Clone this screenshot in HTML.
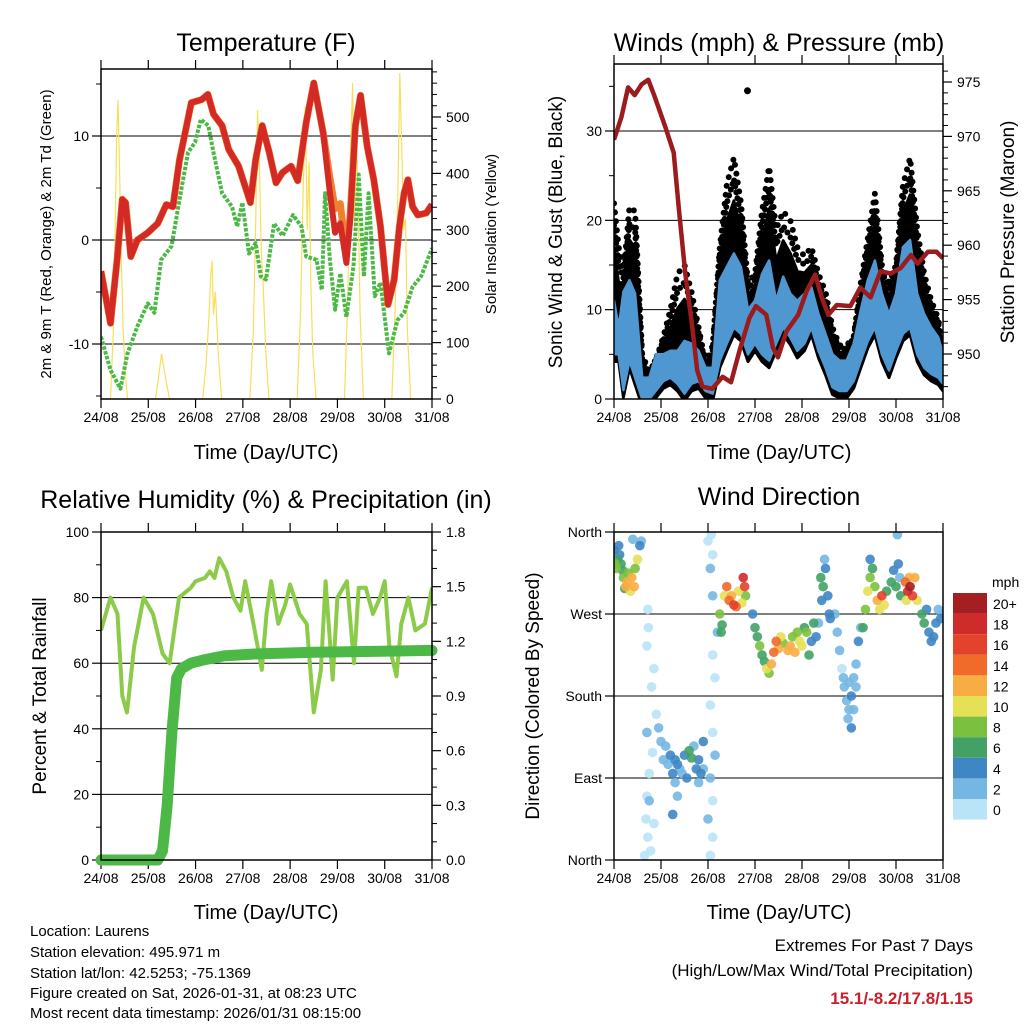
<!DOCTYPE html>
<html><head><meta charset="utf-8"><style>
html,body{margin:0;padding:0;background:#fff;}
svg{display:block;font-family:"Liberation Sans",sans-serif;}
</style></head><body>
<svg id="fig" width="1024" height="1024" viewBox="0 0 1024 1024" xmlns="http://www.w3.org/2000/svg">
<rect x="0" y="0" width="1024" height="1024" fill="#fff"/>
<text x="266" y="51" font-size="25" text-anchor="middle">Temperature (F)</text>
<text x="779" y="51" font-size="25" text-anchor="middle">Winds (mph) &amp; Pressure (mb)</text>
<text x="266" y="508" font-size="25" text-anchor="middle">Relative Humidity (%) &amp; Precipitation (in)</text>
<text x="779" y="505" font-size="25" text-anchor="middle">Wind Direction</text>
<text x="266" y="459" font-size="20" text-anchor="middle">Time (Day/UTC)</text>
<text x="779" y="459" font-size="20" text-anchor="middle">Time (Day/UTC)</text>
<text x="266" y="919" font-size="20" text-anchor="middle">Time (Day/UTC)</text>
<text x="779" y="919" font-size="20" text-anchor="middle">Time (Day/UTC)</text>
<text transform="translate(51,234) rotate(-90)" font-size="15" text-anchor="middle">2m &amp; 9m T (Red, Orange) &amp; 2m Td (Green)</text>
<text transform="translate(496,234) rotate(-90)" font-size="15" text-anchor="middle">Solar Insolation (Yellow)</text>
<text transform="translate(562,232) rotate(-90)" font-size="19" text-anchor="middle">Sonic Wind &amp; Gust (Blue, Black)</text>
<text transform="translate(1014,232) rotate(-90)" font-size="19" text-anchor="middle">Station Pressure (Maroon)</text>
<text transform="translate(46,696) rotate(-90)" font-size="19" text-anchor="middle">Percent &amp; Total Rainfall</text>
<text transform="translate(539,696) rotate(-90)" font-size="19" text-anchor="middle">Direction (Colored By Speed)</text>
<g font-size="15">
<text x="30" y="936">Location: Laurens</text>
<text x="30" y="957">Station elevation: 495.971 m</text>
<text x="30" y="978">Station lat/lon: 42.5253; -75.1369</text>
<text x="30" y="998">Figure created on Sat, 2026-01-31, at 08:23 UTC</text>
<text x="30" y="1018">Most recent data timestamp: 2026/01/31 08:15:00</text>
</g>
<g font-size="17" text-anchor="end">
<text x="973" y="951">Extremes For Past 7 Days</text>
<text x="973" y="976">(High/Low/Max Wind/Total Precipitation)</text>
<text x="973" y="1004" fill="#c8202a" font-weight="bold">15.1/-8.2/17.8/1.15</text>
</g>
<text x="992" y="587" font-size="14">mph</text>
</svg>
<script>
// ---- data ----
const dayLabels=["24/08","25/08","26/08","27/08","28/08","29/08","30/08","31/08"];
const tempT=[0,0.2,0.34,0.45,0.52,0.63,0.77,0.99,1.2,1.38,1.52,1.66,1.81,1.91,2.13,2.26,2.38,2.56,2.7,2.91,3.16,3.27,3.41,3.56,3.7,3.84,4.02,4.16,4.34,4.5,4.7,4.84,4.95,5.06,5.19,5.27,5.38,5.49,5.63,5.77,5.91,6.07,6.2,6.31,6.41,6.49,6.59,6.7,6.88,7.0];
const tempRed=[-3,-8,-1.9,3.9,3.6,-1.6,0,0.7,1.6,3.4,3.2,7.7,11,13.2,13.5,14,12.1,11,8.7,7.1,3.6,7.7,11,8.4,5.5,6.5,7.1,5.7,11.3,15.1,10.3,4.5,0.7,1.6,-2.2,2,11,13.9,9,5.8,1.3,-6.2,-3.8,1.3,4.5,5.8,3.2,2.4,2.6,3.4];
const tempOrange=[-3,-8,-1.9,3.9,3.6,-1.6,0,0.7,1.6,3.4,3.2,7.7,11,13.2,13.5,14,12.1,11,8.7,7.1,3.6,7.7,11,8.4,5.5,6.5,7.1,5.7,11.3,15.1,10.3,6,3,3.5,-1.5,2.5,11,13.9,9,5.8,1.3,-6.2,-3.8,1.3,4.5,5.8,3.2,2.4,2.6,3.4];
const dewT=[0,0.2,0.41,0.56,0.77,0.99,1.13,1.27,1.49,1.7,1.84,1.99,2.11,2.27,2.38,2.56,2.77,2.88,2.99,3.13,3.27,3.38,3.49,3.56,3.66,3.84,4.06,4.24,4.34,4.56,4.67,4.74,4.84,4.95,5.06,5.19,5.34,5.45,5.56,5.66,5.79,5.91,6.09,6.27,6.41,6.59,6.77,7.0];
const dewGreen=[-9.3,-12.5,-14.3,-10.9,-8.3,-6.1,-7,-1.9,-0.6,4.9,8.4,9.4,11.6,11,8.4,4.5,3.2,1.3,3.6,-1.3,-0.3,-3.5,-3.8,-1.6,1.6,0.4,2.4,1.3,-1.6,-1.9,-4.8,4.5,-1.9,-6.7,-3.2,-7.4,-2.5,6.3,-3.5,4.5,-5.4,-4.1,-10.9,-7.7,-7,-4.5,-3.5,-0.8];
const solarT=[0,0.2,0.26,0.3,0.33,0.36,0.39,0.43,0.47,0.52,0.56,1.15,1.22,1.28,1.32,1.38,1.45,2.15,2.22,2.28,2.32,2.35,2.38,2.42,2.48,2.55,3.15,3.22,3.27,3.31,3.35,3.39,3.43,3.48,3.55,4.15,4.22,4.27,4.32,4.36,4.4,4.44,4.48,4.55,5.15,5.22,5.27,5.32,5.36,5.4,5.44,5.48,5.55,6.15,6.22,6.28,6.32,6.36,6.4,6.44,6.48,6.55,7];
const solarVal=[0,0,120,300,460,530,420,250,120,40,0,0,40,80,60,30,0,0,60,140,220,245,150,190,80,0,0,120,300,512,420,260,200,90,0,0,150,350,518,300,420,200,80,0,0,180,420,560,300,480,340,150,0,0,160,380,578,450,300,320,120,0,0];
const windT=[0,0.1,0.2,0.33,0.45,0.6,0.75,0.9,1.05,1.2,1.35,1.5,1.65,1.8,1.95,2.1,2.25,2.4,2.55,2.7,2.85,3.0,3.15,3.3,3.45,3.6,3.75,3.9,4.05,4.2,4.35,4.5,4.65,4.8,4.95,5.1,5.25,5.4,5.55,5.7,5.85,6.0,6.15,6.3,6.45,6.6,6.75,6.9,7.0];
const windLo=[5,5,1,4.3,2.4,0,0,1,2,2.4,1.7,0.6,1.7,2,0.9,0.6,4.3,6.2,8,7.3,5,6.2,5,4.3,6.2,8,6.9,5.4,6.2,8,5.4,3.5,1.3,0.9,0.9,2,4.3,6.5,8,5,3.2,5.4,7.3,8,5,3.5,2.8,2.4,1.7];
const windHi=[11,8,12,13.3,11.8,2.4,2.4,5,5,5.4,5.4,6.5,6.2,5.4,3.5,3.5,13.3,14.8,16.3,14.8,10,11,14,15.5,11,13.7,11.8,11,11.8,12.5,9.5,7.3,5,4.3,4.3,6.2,10,13.3,15.5,11.8,9.5,11.8,17,17.8,11.8,9.5,8,6.9,5];
const gustHi=[21.9,17,14,21.5,21,5,3,4.5,7,10,14,15,12,8,4,6,17,24,27,22,13,14,21,26,19,21,20,17,16,17,14,12,8,6,6,7,13,18,23,15,13,15,24,27,19,14,11,9,5];
const gustOutT=[2.84];
const gustOutV=[34.5];
const presT=[0,0.16,0.3,0.44,0.59,0.73,0.87,1.09,1.27,1.38,1.52,1.66,1.77,1.88,2.09,2.31,2.49,2.67,2.88,3.02,3.24,3.38,3.49,3.67,3.92,4.1,4.28,4.42,4.56,4.74,5.03,5.24,5.46,5.67,5.89,6.1,6.32,6.46,6.68,6.86,7];
const presVal=[969.7,971.8,974.5,973.8,974.8,975.2,973.6,970.9,968.5,963.3,957.3,952.7,948.5,947,946.8,947.9,947.4,950.3,953.3,954.4,953.6,950.6,949.7,952.1,953.6,955.8,957.3,955.2,953.6,954.5,954.4,956.1,955.2,957.6,957.4,957.9,959.1,958.3,959.4,959.4,958.8];
const rhT=[0,0.2,0.35,0.45,0.55,0.7,0.9,1.1,1.3,1.45,1.65,1.9,2.0,2.2,2.3,2.4,2.5,2.65,2.8,2.95,3.05,3.25,3.4,3.5,3.6,3.75,3.9,4.0,4.2,4.35,4.5,4.65,4.75,4.9,5.0,5.2,5.35,5.45,5.6,5.75,5.9,6.0,6.1,6.25,6.35,6.5,6.65,6.85,7.0];
const rhVal=[70,80,75,50,45,65,80,75,63,60,80,83,85,86,88,86,92,88,80,76,85,70,58,75,85,72,78,84,75,72,45,58,85,55,80,85,60,83,83,75,80,85,65,56,72,80,70,72,83];
const rainT=[0,1.2,1.3,1.4,1.5,1.6,1.7,1.9,2.2,2.6,3.2,4.5,7];
const rainVal=[0,0,0.05,0.3,0.7,1.0,1.05,1.08,1.1,1.12,1.13,1.14,1.15];
const dirT=[0,0.02,0.05,0.08,0.1,0.12,0.15,0.18,0.2,0.25,0.28,0.3,0.35,0.38,0.45,0.5,0.55,0.58,0.43,0.23,0.4,
0.72,0.73,0.7,0.85,0.8,0.9,0.7,0.82,0.75,0.7,0.68,0.72,0.78,0.65,0.85,0.75,0.95,
1.0,1.1,1.2,1.3,1.35,1.4,1.25,1.5,1.6,1.65,1.75,1.8,1.85,1.9,1.45,1.15,1.55,1.3,1.7,1.05,1.35,1.25,1.8,1.9,
2.05,2.1,2.0,2.1,2.05,2.15,2.1,2.05,2.15,2.1,2.2,2.1,2.05,2.0,2.07,2.1,
2.25,2.3,2.28,2.35,2.4,2.45,2.5,2.55,2.6,2.65,2.75,2.78,2.8,2.72,
2.95,3.0,3.05,3.1,3.15,3.2,3.25,3.3,3.35,3.4,3.45,3.5,3.55,3.6,3.7,3.75,3.8,3.9,3.95,4.0,4.1,4.15,4.2,4.25,4.3,3.85,4.05,
4.4,4.45,4.5,4.48,4.55,4.58,4.6,4.42,4.35,
4.7,4.75,4.8,4.85,4.9,4.95,5.0,5.05,5.1,5.15,5.2,5.25,4.98,5.05,5.1,4.88,5.0,5.15,
5.3,5.35,5.4,5.45,5.5,5.55,5.6,5.7,5.75,5.8,5.45,5.65,
5.9,5.95,6.0,6.05,6.08,6.1,6.03,
6.2,6.25,6.3,6.35,6.4,6.45,6.22,6.28,
6.55,6.6,6.65,6.7,6.8,6.85,6.9,6.95,7.0,6.75];
const dirVal=[340,325,320,330,345,335,325,318,310,300,305,315,295,310,320,330,345,350,300,298,352,
275,255,235,210,190,160,140,118,95,70,45,25,10,5,40,65,145,
130,125,115,110,105,100,95,115,120,112,100,110,95,130,95,105,90,85,125,110,70,50,85,100,
5,25,45,65,90,115,140,170,200,225,250,290,320,350,357,335,
270,258,250,290,300,285,290,280,278,295,310,300,290,282,
270,255,245,235,225,218,210,205,215,228,240,232,245,238,230,235,245,250,240,235,250,225,240,260,245,228,255,
310,300,320,330,290,270,265,285,260,
270,250,230,210,190,175,165,180,200,215,240,255,155,145,165,200,195,190,
255,275,295,310,320,300,285,290,280,295,330,275,
305,318,300,325,310,290,357,
305,295,300,290,310,285,285,310,
270,260,275,250,245,260,275,265,270,240];
const dirSpd=[5,8,9,6,4,5,7,7,9,12,13,8,10,12,9,10,4,3,12,6,3,
1,1,1,1,0,1,2,1,0,0,1,0,0,0,1,2,2,
3,3,4,4,4,3,4,5,6,7,4,4,5,4,3,2,4,3,2,2,3,4,3,3,
1,1,2,1,2,2,1,1,1,1,2,2,2,1,1,1,
8,7,6,11,14,15,13,16,14,11,18,17,8,10,
4,6,6,8,7,6,10,9,12,15,14,12,10,8,13,12,8,9,10,11,8,6,5,6,4,12,7,
6,7,4,3,4,5,4,5,3,
2,2,2,1,2,3,2,4,2,2,4,3,3,4,3,3,2,2,
7,8,10,9,7,8,12,16,10,7,5,10,
6,5,6,4,3,6,2,
14,18,20,16,12,10,10,12,
7,6,5,4,4,4,3,4,3,4];
const cbLabels=["20+","18","16","14","12","10","8","6","4","2","0"];
const cbColors=["#a51e22","#cf2b2b","#e2432a","#f06a2a","#f8ad43","#e5e055","#7cc03f","#42a265","#3f86c4","#74b7e2","#b9e3f7"];

// ---- helpers ----
const NS="http://www.w3.org/2000/svg";
const svg=document.getElementById("fig");
function mk(tag,attrs,parent){const e=document.createElementNS(NS,tag);for(const k in attrs)e.setAttribute(k,attrs[k]);(parent||svg).appendChild(e);return e;}
function lin(d0,d1,r0,r1){return v=>r0+(v-d0)*(r1-r0)/(d1-d0);}
function pts(ts,vs,fx,fy){return ts.map((t,i)=>fx(t).toFixed(1)+","+fy(vs[i]).toFixed(1)).join(" ");}

const P={
 temp:{x0:101,x1:432,y0:69,y1:399},
 wind:{x0:614,x1:943,y0:64,y1:399},
 rh:{x0:101,x1:432,y0:532,y1:860},
 wd:{x0:614,x1:943,y0:532,y1:860}
};
for(const k in P){P[k].fx=lin(0,7,P[k].x0,P[k].x1);}
P.temp.fy=lin(0,10,240,136); P.temp.fs=lin(0,500,399,117);
P.wind.fy=lin(0,30,399,131); P.wind.fp=lin(950,975,354,82);
P.rh.fy=lin(0,100,860,532); P.rh.fr=lin(0,1.8,860,532);
P.wd.fy=lin(0,360,860,532);

function clip(name,p){const c=mk("clipPath",{id:name});mk("rect",{x:p.x0,y:p.y0,width:p.x1-p.x0,height:p.y1-p.y0},c);}
for(const k in P)clip("clip-"+k,P[k]);

function xAxis(p,name){
 dayLabels.forEach((lab,i)=>{
  const x=p.fx(i);
  const t=mk("line",{x1:x,x2:x,y1:p.y1,y2:p.y1+9,stroke:"#000","stroke-width":1.2});
  
  
  const t2=mk("line",{x1:x,x2:x,y1:p.y0,y2:p.y0-9,stroke:"#000","stroke-width":1.2});
  
  
  const tx=mk("text",{x:x,y:p.y1+23,"font-size":14,"text-anchor":"middle"});
  tx.textContent=lab;
  
  
 });
}
function leftAxis(p,name,vals,labels,fy,grid,minor){
 vals.forEach((v,i)=>{
  const y=fy(v);
  if(grid){const g=mk("line",{x1:p.x0,x2:p.x1,y1:y,y2:y,stroke:"#000","stroke-width":1});
   
   }
  const t=mk("line",{x1:p.x0,x2:p.x0-9,y1:y,y2:y,stroke:"#000","stroke-width":1.2});
  
  
  const tx=mk("text",{x:p.x0-12,y:y+5,"font-size":14,"text-anchor":"end"});
  tx.textContent=labels[i];
  
  
 });
 (minor||[]).forEach(v=>{const y=fy(v);
  const m=mk("line",{x1:p.x0,x2:p.x0-5,y1:y,y2:y,stroke:"#000","stroke-width":1});
  
  });
}
function rightAxis(p,name,vals,labels,fy,minor){
 vals.forEach((v,i)=>{
  const y=fy(v);
  const t=mk("line",{x1:p.x1,x2:p.x1+9,y1:y,y2:y,stroke:"#000","stroke-width":1.2});
  
  
  const tx=mk("text",{x:p.x1+14,y:y+5,"font-size":14});
  tx.textContent=labels[i];
  
  
 });
 (minor||[]).forEach(v=>{const y=fy(v);
  const m=mk("line",{x1:p.x1,x2:p.x1+5,y1:y,y2:y,stroke:"#000","stroke-width":1});
  
  });
}
function frame(p,name){const r=mk("rect",{x:p.x0,y:p.y0,width:p.x1-p.x0,height:p.y1-p.y0,fill:"none",stroke:"#000","stroke-width":1.5});
 
 }

// ---- Temperature ----
(function(){const p=P.temp;
 leftAxis(p,"temperature",[10,0,-10],["10","0","-10"],p.fy,true,[15,5,-5,-15]);
 rightAxis(p,"solar",[0,100,200,300,400,500],["0","100","200","300","400","500"],p.fs,[20,40,60,80,120,140,160,180,220,240,260,280,320,340,360,380,420,440,460,480,520,540,560,580]);
 xAxis(p,"temperature");
 const g=mk("g",{"clip-path":"url(#clip-temp)"});
 const s=mk("polyline",{points:pts(solarT,solarVal,p.fx,p.fs),fill:"none",stroke:"#f7df5a","stroke-width":1.2},g);
 
 
 const d=mk("polyline",{points:pts(dewT,dewGreen,p.fx,p.fy),fill:"none",stroke:"#4cb946","stroke-width":4,"stroke-dasharray":"3.5 1.5","stroke-linejoin":"round"},g);
 
 
 const o=mk("polyline",{points:pts(tempT,tempOrange,p.fx,p.fy),fill:"none",stroke:"#f07f30","stroke-width":7,"stroke-linejoin":"round"},g);
 
 
 const r=mk("polyline",{points:pts(tempT,tempRed,p.fx,p.fy),fill:"none",stroke:"#d42a25","stroke-width":6,"stroke-linejoin":"round"},g);
 
 
 frame(p,"temperature");
})();

// ---- Winds ----
(function(){const p=P.wind;
 leftAxis(p,"wind",[0,10,20,30],["0","10","20","30"],p.fy,true,[5,15,25,35]);
 const pv=[],pl=[],pm=[];for(let v=950;v<=975;v+=5){pv.push(v);pl.push(String(v));}
 for(let v=947;v<=976;v++){if(v%5)pm.push(v);}
 rightAxis(p,"pressure",pv,pl,p.fp,pm);
 xAxis(p,"wind");
 const g=mk("g",{"clip-path":"url(#clip-wind)"});
 const bt=windT.concat(windT.slice().reverse());
 const mid=gustHi.map((v,i)=>windHi[i]+0.55*(v-windHi[i]));
 const gb=mk("polygon",{points:pts(bt,mid.concat(windLo.slice().reverse().map(v=>v-0.8)),p.fx,p.fy),fill:"#000",stroke:"#000","stroke-width":3,"stroke-linejoin":"round"},g);
 
 
 const gd=mk("polyline",{points:pts(windT,gustHi,p.fx,p.fy),fill:"none",stroke:"#000","stroke-width":6,"stroke-dasharray":"0 9","stroke-linecap":"round"},g);
 
 
 const gd2=mk("polyline",{points:pts(windT,gustHi.map((v,i)=>(v+mid[i])/2),p.fx,p.fy),fill:"none",stroke:"#000","stroke-width":6,"stroke-dasharray":"0 6","stroke-linecap":"round"},g);
 
 
 gustOutT.forEach((t,i)=>{const c=mk("circle",{cx:p.fx(t),cy:p.fy(gustOutV[i]),r:3.5,fill:"#000"},g);
  
  });
 const wb=mk("polygon",{points:pts(bt,windHi.concat(windLo.slice().reverse()),p.fx,p.fy),fill:"#4f97d0",stroke:"#4f97d0","stroke-width":2.5,"stroke-linejoin":"round"},g);
 
 
 const pr=mk("polyline",{points:pts(presT,presVal,p.fx,p.fp),fill:"none",stroke:"#9b1b1e","stroke-width":4.5,"stroke-linejoin":"round"},g);
 
 
 frame(p,"winds");
})();

// ---- RH ----
(function(){const p=P.rh;
 leftAxis(p,"humidity",[0,20,40,60,80,100],["0","20","40","60","80","100"],p.fy,true,[10,30,50,70,90]);
 rightAxis(p,"rain",[0,0.3,0.6,0.9,1.2,1.5,1.8],["0.0","0.3","0.6","0.9","1.2","1.5","1.8"],p.fr,[0.1,0.2,0.4,0.5,0.7,0.8,1.0,1.1,1.3,1.4,1.6,1.7]);
 xAxis(p,"humidity");
 const g=mk("g",{"clip-path":"url(#clip-rh)"});
 const r=mk("polyline",{points:pts(rhT,rhVal,p.fx,p.fy),fill:"none",stroke:"#8ccb4a","stroke-width":4,"stroke-linejoin":"round"},g);
 
 
 const pc=mk("polyline",{points:pts(rainT,rainVal,p.fx,p.fr),fill:"none",stroke:"#4cb946","stroke-width":11,"stroke-linejoin":"round","stroke-linecap":"round"});
 
 
 frame(p,"humidity");
})();

// ---- Wind direction ----
(function(){const p=P.wd;
 leftAxis(p,"direction",[0,90,180,270,360],["North","East","South","West","North"],p.fy,true,[]);
 xAxis(p,"direction");
 const g=mk("g",{"clip-path":"url(#clip-wd)"});
 const order=dirSpd.map((s,i)=>i).sort((a,b)=>dirSpd[a]-dirSpd[b]);
 order.forEach(i=>{
  const bin=Math.min(10,Math.floor(dirSpd[i]/2));
  const c=mk("circle",{cx:p.fx(dirT[i]),cy:p.fy(dirVal[i]),r:4.8,fill:cbColors[10-bin],"fill-opacity":0.9},g);
  
  
 });
 frame(p,"wind-direction");
 cbLabels.forEach((lab,i)=>{
  const y=593+i*20.6;
  const b=mk("rect",{x:953,y:y,width:34,height:20.6,fill:cbColors[i]});
  
  
  const t=mk("text",{x:993,y:y+16,"font-size":14});
  t.textContent=lab;
  
  
 });
})();
</script>
</body></html>
